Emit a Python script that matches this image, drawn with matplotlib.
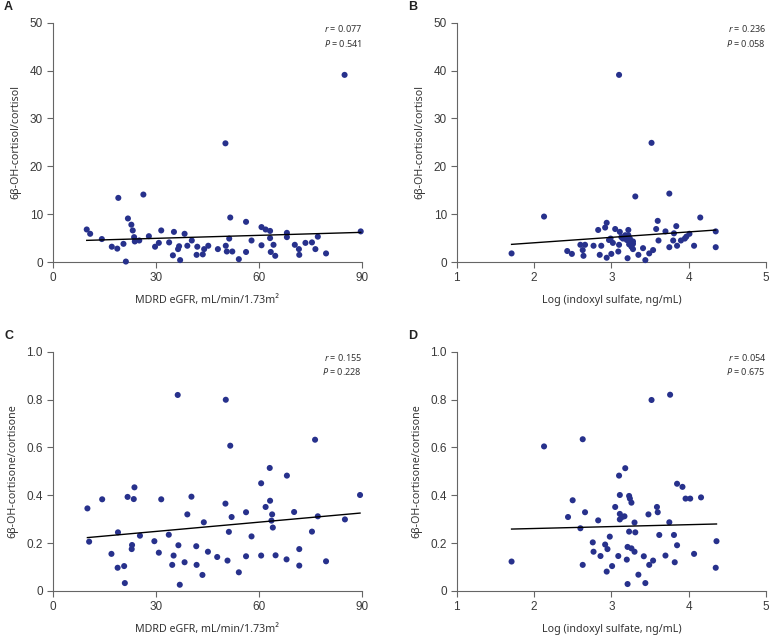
import matplotlib
matplotlib.use("Agg")
import matplotlib.pyplot as plt
import numpy as np

plt.rcParams['font.family'] = ['Noto Sans', 'DejaVu Sans']
plt.rcParams['mathtext.fontset'] = 'custom'
plt.rcParams['mathtext.it'] = 'Noto Sans:italic'
plt.rcParams['mathtext.rm'] = 'Noto Sans'

# MDRD eGFR vs 6b-OH-cortisol/cortisol (panel A)
egfr_a = [9.9, 10.9, 14.3, 17.2, 18.8, 19.1, 20.6, 21.3, 21.9, 22.9, 23.3, 23.7, 23.9,
          25.2, 26.4, 28.0, 29.8, 30.9, 31.6, 33.9, 35.0, 35.3, 36.5, 36.8, 37.1, 38.4,
          39.2, 40.5, 42.1, 41.9, 43.7, 44.1, 45.3, 48.1, 50.4, 50.7, 51.4, 51.7, 52.3,
          54.2, 56.3, 56.3, 57.9, 60.8, 60.8, 62.0, 63.3, 63.3, 63.5, 64.3, 64.8, 68.2,
          68.2, 70.5, 71.7, 71.8, 73.6, 75.5, 76.5, 77.2, 79.6, 89.7, 50.3, 85.0]
ratio_a = [6.8, 5.9, 4.8, 3.2, 2.8, 13.4, 3.8, 0.1, 9.1, 7.8, 6.6, 5.2, 4.3,
           4.5, 14.1, 5.4, 3.2, 4.0, 6.6, 4.1, 1.4, 6.3, 2.7, 3.3, 0.4, 5.9,
           3.4, 4.5, 3.2, 1.5, 1.6, 2.7, 3.4, 2.7, 3.4, 2.2, 4.9, 9.3, 2.2,
           0.6, 8.4, 2.1, 4.5, 3.5, 7.3, 6.8, 6.5, 5.0, 2.1, 3.6, 1.3, 6.1,
           5.2, 3.6, 2.7, 1.5, 4.0, 4.1, 2.7, 5.3, 1.8, 6.4, 24.8, 39.1]

# log indoxyl sulfate vs 6b-OH-cortisol/cortisol (panel B)
logis_b = [1.71, 2.13, 2.43, 2.49, 2.60, 2.63, 2.64, 2.66, 2.77, 2.83, 2.85, 2.87,
           2.92, 2.94, 2.94, 2.97, 3.00, 3.02, 3.05, 3.09, 3.10, 3.11, 3.13, 3.18,
           3.20, 3.21, 3.22, 3.23, 3.24, 3.25, 3.26, 3.28, 3.28, 3.31, 3.35, 3.41,
           3.44, 3.49, 3.54, 3.58, 3.60, 3.61, 3.70, 3.75, 3.75, 3.80, 3.81, 3.84,
           3.85, 3.90, 3.95, 3.97, 4.01, 4.07, 4.15, 4.35, 4.35, 3.10, 3.52,
           2.99, 3.15, 3.22, 3.28]
ratio_b = [1.8, 9.5, 2.3, 1.7, 3.6, 2.5, 1.3, 3.6, 3.4, 6.7, 1.5, 3.4,
           7.2, 8.2, 0.9, 4.6, 1.7, 4.0, 6.9, 2.2, 3.6, 6.3, 5.2, 5.6,
           4.6, 0.8, 6.7, 3.7, 4.9, 4.3, 3.2, 2.7, 4.3, 13.7, 1.5, 2.9,
           0.4, 1.8, 2.5, 6.9, 8.6, 4.5, 6.4, 3.1, 14.3, 4.5, 6.0, 7.5,
           3.4, 4.5, 4.9, 5.3, 5.9, 3.4, 9.3, 3.1, 6.4, 39.1, 24.9,
           4.9, 4.9, 5.6, 3.8]

# MDRD eGFR vs 6b-OH-cortisone/cortisone (panel C)
egfr_c = [10.1, 10.6, 14.4, 17.1, 18.9, 19.0, 21.0, 20.8, 21.8, 23.1, 23.0, 23.6, 23.8,
          25.4, 29.6, 30.9, 31.6, 33.8, 34.8, 35.2, 36.4, 36.6, 37.0, 38.4, 39.2, 40.4,
          41.8, 41.9, 43.6, 44.0, 45.2, 47.9, 50.3, 50.4, 50.9, 51.3, 51.7, 52.1, 54.2,
          56.3, 56.3, 57.9, 60.7, 60.7, 62.0, 63.2, 63.3, 63.7, 63.9, 64.1, 64.9, 68.1,
          68.2, 70.3, 71.8, 71.8, 75.5, 76.4, 77.2, 79.6, 85.1, 89.5]
ratio_c = [0.345, 0.206, 0.383, 0.155, 0.097, 0.245, 0.033, 0.104, 0.393, 0.192, 0.175,
           0.384, 0.433, 0.231, 0.208, 0.160, 0.383, 0.235, 0.109, 0.148, 0.819, 0.191,
           0.026, 0.120, 0.320, 0.394, 0.187, 0.109, 0.067, 0.287, 0.164, 0.142, 0.365,
           0.799, 0.127, 0.247, 0.607, 0.309, 0.078, 0.329, 0.145, 0.228, 0.450, 0.148,
           0.351, 0.514, 0.377, 0.294, 0.320, 0.265, 0.149, 0.132, 0.482, 0.330, 0.175,
           0.106, 0.248, 0.632, 0.312, 0.124, 0.299, 0.401]

# log indoxyl sulfate vs 6b-OH-cortisone/cortisone (panel D)
logis_d = [1.71, 2.13, 2.44, 2.50, 2.60, 2.63, 2.63, 2.66, 2.76, 2.77, 2.83, 2.86,
           2.92, 2.94, 2.95, 2.98, 3.01, 3.05, 3.09, 3.10, 3.11, 3.11, 3.11, 3.14,
           3.17, 3.18, 3.20, 3.21, 3.21, 3.23, 3.23, 3.24, 3.26, 3.26, 3.30, 3.30,
           3.31, 3.35, 3.42, 3.44, 3.48, 3.49, 3.52, 3.54, 3.59, 3.60, 3.62, 3.70,
           3.75, 3.76, 3.81, 3.82, 3.85, 3.85, 3.92, 3.96, 4.02, 4.07, 4.16, 4.35, 4.36]
ratio_d = [0.123, 0.604, 0.309, 0.379, 0.262, 0.634, 0.109, 0.329, 0.203, 0.164, 0.295,
           0.146, 0.194, 0.081, 0.175, 0.227, 0.104, 0.351, 0.146, 0.482, 0.401, 0.322,
           0.299, 0.309, 0.312, 0.513, 0.131, 0.029, 0.184, 0.248, 0.397, 0.386, 0.369,
           0.178, 0.164, 0.286, 0.245, 0.068, 0.145, 0.033, 0.320, 0.109, 0.798, 0.127,
           0.351, 0.329, 0.234, 0.148, 0.287, 0.820, 0.234, 0.120, 0.448, 0.191, 0.435,
           0.386, 0.386, 0.155, 0.391, 0.097, 0.208]

# regression lines as drawn (intercept, slope)
fit_a = (4.32, 0.0209)
fit_b = (1.75, 1.135)
fit_c = (0.210, 0.00129)
fit_d = (0.245, 0.008)

stats_a = ('0.077', '0.541')
stats_b = ('0.236', '0.058')
stats_c = ('0.155', '0.228')
stats_d = ('0.054', '0.675')

xlabel_gfr = 'MDRD eGFR, mL/min/1.73m\u00b2'
xlabel_is = 'Log (indoxyl sulfate, ng/mL)'
ylabel_top = '6\u03b2-OH-cortisol/cortisol'
ylabel_bot = '6\u03b2-OH-cortisone/cortisone'

dot_color = '#27318c'
axis_color = '#666666'

fig = plt.figure(figsize=(7.71, 6.36), dpi=100)

panels = [
    ('A', [0.0684, 0.588, 0.4008, 0.3763], egfr_a, ratio_a, fit_a, stats_a,
     (0, 90), [0, 30, 60, 90], (0, 50), [0, 10, 20, 30, 40, 50], xlabel_gfr, ylabel_top),
    ('B', [0.5923, 0.588, 0.4012, 0.3763], logis_b, ratio_b, fit_b, stats_b,
     (1, 5), [1, 2, 3, 4, 5], (0, 50), [0, 10, 20, 30, 40, 50], xlabel_is, ylabel_top),
    ('C', [0.0684, 0.0708, 0.4008, 0.3763], egfr_c, ratio_c, fit_c, stats_c,
     (0, 90), [0, 30, 60, 90], (0, 1.0), [0, 0.2, 0.4, 0.6, 0.8, 1.0], xlabel_gfr, ylabel_bot),
    ('D', [0.5923, 0.0708, 0.4012, 0.3763], logis_d, ratio_d, fit_d, stats_d,
     (1, 5), [1, 2, 3, 4, 5], (0, 1.0), [0, 0.2, 0.4, 0.6, 0.8, 1.0], xlabel_is, ylabel_bot),
]

for letter, rect, xs, ys, fit, st, xlim, xticks, ylim, yticks, xl, yl in panels:
    ax = fig.add_axes(rect)
    xs = np.array(xs)
    ys = np.array(ys)
    ax.scatter(xs, ys, s=19, color=dot_color, edgecolors='none', zorder=3, clip_on=False)
    xl_line = np.array([xs.min(), xs.max()])
    ax.plot(xl_line, fit[0] + fit[1] * xl_line, color='black', lw=1.0, zorder=4)

    ax.set_xlim(*xlim)
    ax.set_ylim(*ylim)
    ax.set_xticks(xticks)
    ax.set_yticks(yticks)
    if ylim[1] == 1.0:
        ax.set_yticklabels(['0', '0.2', '0.4', '0.6', '0.8', '1.0'])
    for side in ['top', 'right']:
        ax.spines[side].set_visible(False)
    for side in ['left', 'bottom']:
        ax.spines[side].set_color(axis_color)
        ax.spines[side].set_linewidth(0.8)
    ax.tick_params(direction='out', length=4, width=0.8, color=axis_color,
                   labelsize=8.5, labelcolor='#3a3a3a', pad=3)
    for lab in ax.get_xticklabels() + ax.get_yticklabels():
        lab.set_fontfamily('Liberation Sans')

    ax.set_xlabel(xl, fontsize=7.7, color='#333333', labelpad=8)
    ax.set_ylabel(yl, fontsize=7.7, color='#333333', labelpad=6)

    ax.text(1.0, 0.975, '$r$ = ' + st[0], transform=ax.transAxes, ha='right', va='center',
            fontsize=6.5, color='#333333')
    ax.text(1.0, 0.915, '$P$ = ' + st[1], transform=ax.transAxes, ha='right', va='center',
            fontsize=6.5, color='#333333')

    fig.text(rect[0] - 0.063, rect[1] + rect[3] + 0.025, letter, fontsize=9,
             fontweight='bold', color='#222222', va='center', ha='left',
             family='Liberation Sans')

fig.savefig('out.png', dpi=100)
